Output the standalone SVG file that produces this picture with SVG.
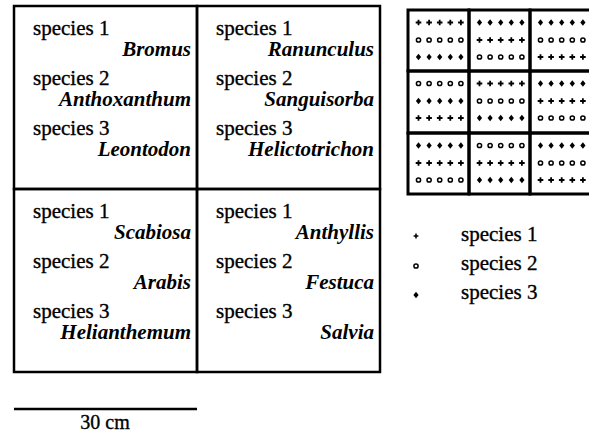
<svg xmlns="http://www.w3.org/2000/svg" xmlns:xlink="http://www.w3.org/1999/xlink" width="589" height="434" viewBox="0 0 589 434">
  <style>
    .frame { fill: none; stroke: #000; stroke-width: 2.5; }
    .grid { fill: none; stroke: #000; stroke-width: 3; }
    .sp { font-family: "Liberation Serif", "Times New Roman", serif; font-size: 21px; fill: #000; stroke: #000; stroke-width: 0.35; }
    .gen { font-family: "Liberation Serif", "Times New Roman", serif; font-size: 21px; font-style: italic; font-weight: bold; fill: #000; text-anchor: end; }
    .scale { font-family: "Liberation Serif", "Times New Roman", serif; font-size: 20px; fill: #000; stroke: #000; stroke-width: 0.35; text-anchor: middle; }
  </style>
  <defs>
    <!-- plot markers -->
    <g id="m1"><path d="M-2.8 0H2.8M0 -2.8V2.8" stroke="#000" stroke-width="1.8" fill="none"/></g>
    <g id="m2"><circle r="2.1" fill="none" stroke="#000" stroke-width="1.5"/></g>
    <g id="m3"><path d="M0 -3.3L2.6 0L0 3.3L-2.6 0Z" fill="#000"/></g>
    <!-- three rows of five markers -->
    <g id="r1"><use xlink:href="#m1" x="0"/><use xlink:href="#m1" x="10.6"/><use xlink:href="#m1" x="21.2"/><use xlink:href="#m1" x="31.8"/><use xlink:href="#m1" x="42.4"/></g>
    <g id="r2"><use xlink:href="#m2" x="0"/><use xlink:href="#m2" x="10.6"/><use xlink:href="#m2" x="21.2"/><use xlink:href="#m2" x="31.8"/><use xlink:href="#m2" x="42.4"/></g>
    <g id="r3"><use xlink:href="#m3" x="0"/><use xlink:href="#m3" x="10.6"/><use xlink:href="#m3" x="21.2"/><use xlink:href="#m3" x="31.8"/><use xlink:href="#m3" x="42.4"/></g>
  </defs>

  <rect width="589" height="434" fill="#fff"/>

  <!-- large plots with species names -->
  <g id="plot-a">
    <rect class="frame" x="14" y="6" width="183" height="183"/>
    <text class="sp" x="33" y="35">species 1</text>
    <text class="gen" x="191" y="56">Bromus</text>
    <text class="sp" x="33" y="85">species 2</text>
    <text class="gen" x="191" y="106">Anthoxanthum</text>
    <text class="sp" x="33" y="135">species 3</text>
    <text class="gen" x="191" y="156">Leontodon</text>
  </g>
  <g id="plot-b">
    <rect class="frame" x="197" y="6" width="183" height="183"/>
    <text class="sp" x="216" y="35">species 1</text>
    <text class="gen" x="374" y="56">Ranunculus</text>
    <text class="sp" x="216" y="85">species 2</text>
    <text class="gen" x="374" y="106">Sanguisorba</text>
    <text class="sp" x="216" y="135">species 3</text>
    <text class="gen" x="374" y="156">Helictotrichon</text>
  </g>
  <g id="plot-c">
    <rect class="frame" x="14" y="189" width="183" height="183"/>
    <text class="sp" x="33" y="218">species 1</text>
    <text class="gen" x="191" y="239">Scabiosa</text>
    <text class="sp" x="33" y="268">species 2</text>
    <text class="gen" x="191" y="289">Arabis</text>
    <text class="sp" x="33" y="318">species 3</text>
    <text class="gen" x="191" y="339">Helianthemum</text>
  </g>
  <g id="plot-d">
    <rect class="frame" x="197" y="189" width="183" height="183"/>
    <text class="sp" x="216" y="218">species 1</text>
    <text class="gen" x="374" y="239">Anthyllis</text>
    <text class="sp" x="216" y="268">species 2</text>
    <text class="gen" x="374" y="289">Festuca</text>
    <text class="sp" x="216" y="318">species 3</text>
    <text class="gen" x="374" y="339">Salvia</text>
  </g>

  <!-- small sub-plot pattern -->
  <g id="cell-11" transform="translate(408,10)">
    <rect class="grid" width="61" height="61"/>
    <use xlink:href="#r1" x="10.5" y="12.5"/><use xlink:href="#r2" x="10.5" y="30"/><use xlink:href="#r3" x="10.5" y="47"/>
  </g>
  <g id="cell-12" transform="translate(469,10)">
    <rect class="grid" width="61" height="61"/>
    <use xlink:href="#r3" x="10.5" y="12.5"/><use xlink:href="#r1" x="10.5" y="30"/><use xlink:href="#r2" x="10.5" y="47"/>
  </g>
  <g id="cell-13" transform="translate(530,10)">
    <rect class="grid" width="61" height="61"/>
    <use xlink:href="#r3" x="10.5" y="12.5"/><use xlink:href="#r2" x="10.5" y="30"/><use xlink:href="#r1" x="10.5" y="47"/>
  </g>
  <g id="cell-21" transform="translate(408,71)">
    <rect class="grid" width="61" height="62"/>
    <use xlink:href="#r2" x="10.5" y="12.5"/><use xlink:href="#r3" x="10.5" y="30"/><use xlink:href="#r1" x="10.5" y="47"/>
  </g>
  <g id="cell-22" transform="translate(469,71)">
    <rect class="grid" width="61" height="62"/>
    <use xlink:href="#r1" x="10.5" y="12.5"/><use xlink:href="#r2" x="10.5" y="30"/><use xlink:href="#r3" x="10.5" y="47"/>
  </g>
  <g id="cell-23" transform="translate(530,71)">
    <rect class="grid" width="61" height="62"/>
    <use xlink:href="#r3" x="10.5" y="12.5"/><use xlink:href="#r1" x="10.5" y="30"/><use xlink:href="#r2" x="10.5" y="47"/>
  </g>
  <g id="cell-31" transform="translate(408,133)">
    <rect class="grid" width="61" height="61"/>
    <use xlink:href="#r3" x="10.5" y="12.5"/><use xlink:href="#r1" x="10.5" y="30"/><use xlink:href="#r2" x="10.5" y="47"/>
  </g>
  <g id="cell-32" transform="translate(469,133)">
    <rect class="grid" width="61" height="61"/>
    <use xlink:href="#r2" x="10.5" y="12.5"/><use xlink:href="#r1" x="10.5" y="30"/><use xlink:href="#r3" x="10.5" y="47"/>
  </g>
  <g id="cell-33" transform="translate(530,133)">
    <rect class="grid" width="61" height="61"/>
    <use xlink:href="#r3" x="10.5" y="12.5"/><use xlink:href="#r2" x="10.5" y="30"/><use xlink:href="#r1" x="10.5" y="47"/>
  </g>

  <!-- legend -->
  <g id="legend">
    <use xlink:href="#m1" x="416" y="236" transform="translate(416,236) scale(0.85) translate(-416,-236)"/>
    <text class="sp" x="461" y="241">species 1</text>
    <use xlink:href="#m2" x="416" y="266"/>
    <text class="sp" x="461" y="270">species 2</text>
    <use xlink:href="#m3" x="416" y="295"/>
    <text class="sp" x="461" y="299">species 3</text>
  </g>

  <!-- scale bar -->
  <g id="scale-bar">
    <line x1="14" y1="409" x2="197" y2="409" stroke="#000" stroke-width="2.5"/>
    <text class="scale" x="105" y="429">30 cm</text>
  </g>
</svg>
